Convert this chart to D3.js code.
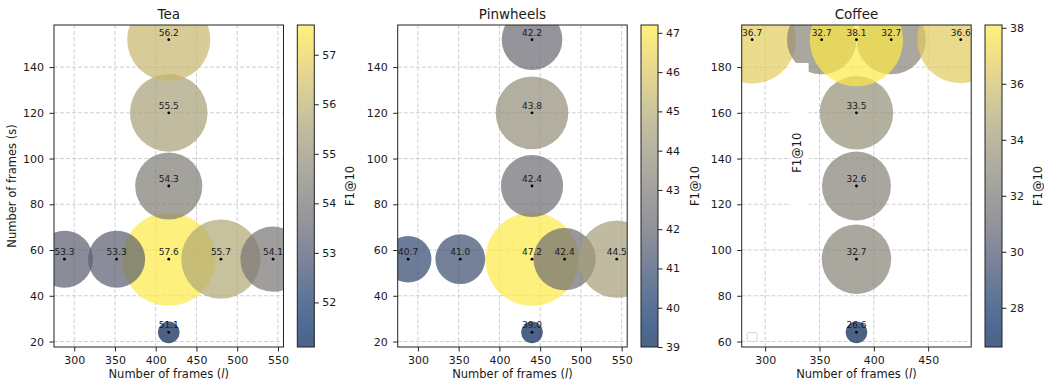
<!DOCTYPE html>
<html>
<head>
<meta charset="utf-8">
<script src="https://cdn.jsdelivr.net/npm/d3@7"></script>
<style>
    body { margin: 0; background: #fff; }
    text { font-family: 'DejaVu Sans', sans-serif; fill: #1a1a1a; }
</style>
</head>
<body>
<script>
const panelTitles = ['Tea', 'Pinwheels', 'Coffee']

// x = number of frames (l), y = number of frames (s), value = F1@10
const teaX = [416, 416, 416, 416, 416, 288, 352, 480, 544]
const teaY = [24, 56, 88, 120, 152, 56, 56, 56, 56]
const teaF1 = [51.1, 57.6, 54.3, 55.5, 56.2, 53.3, 53.3, 55.7, 54.1]

const pinX = [440, 440, 440, 440, 440, 288, 352, 480, 544]
const pinY = [24, 56, 88, 120, 152, 56, 56, 56, 56]
const pinF1 = [39.0, 47.2, 42.4, 43.8, 42.2, 40.7, 41.0, 42.4, 44.5]

const coffeeX = [384, 384, 384, 384, 288, 352, 416, 480, 384]
const coffeeY = [64, 96, 128, 160, 192, 192, 192, 192, 192]
const coffeeF1 = [26.6, 32.7, 32.6, 33.5, 36.7, 32.7, 32.7, 36.6, 38.1]

const teaXTicks = [300, 350, 400, 450, 500, 550]
const teaYTicks = [20, 40, 60, 80, 100, 120, 140]
const teaBarTicks = [52, 53, 54, 55, 56, 57]
const pinXTicks = [300, 350, 400, 450, 500, 550]
const pinYTicks = [20, 40, 60, 80, 100, 120, 140]
const pinBarTicks = [39, 40, 41, 42, 43, 44, 45, 46, 47]
const coffeeXTicks = [300, 350, 400, 450]
const coffeeYTicks = [60, 80, 100, 120, 140, 160, 180]
const coffeeBarTicks = [28, 30, 32, 34, 36, 38]

const svgValues = {
    width: 1044,
    height: 388,
    top: 25,
    bottom: 347,
    axesWidth: 229.5,
    barOffset: 243.3,
    barWidth: 17,
    lefts: [54, 397.7, 741.7]
}

const svg = d3.select('body')
    .append('svg')
    .attr('width', svgValues.width)
    .attr('height', svgValues.height)

function padded(arr){
    const [lo, hi] = d3.extent(arr)
    const m = (hi - lo) * 0.05
    return [lo - m, hi + m]
}

function makePanel(i, xs, ys, vals, xTicks, yTicks, barTicks){
    const left = svgValues.lefts[i]
    const right = left + svgValues.axesWidth
    const g = svg.append('g')

    const xScale = d3.scaleLinear().domain(padded(xs)).range([left, right])
    const yScale = d3.scaleLinear().domain(padded(ys)).range([svgValues.bottom, svgValues.top])
    const color = d3.scaleSequential(d3.interpolateCividis).domain(d3.extent(vals))
    const radius = d3.scaleRadial().domain(d3.extent(vals)).range([10.8, 46.6])

    // grid
    g.selectAll('.gx').data(xTicks).enter().append('line')
        .attr('x1', d => xScale(d)).attr('x2', d => xScale(d))
        .attr('y1', svgValues.top).attr('y2', svgValues.bottom)
        .attr('stroke', '#c4c4c4').attr('stroke-width', 0.8).attr('stroke-dasharray', '4,2')
    g.selectAll('.gy').data(yTicks).enter().append('line')
        .attr('x1', left).attr('x2', right)
        .attr('y1', d => yScale(d)).attr('y2', d => yScale(d))
        .attr('stroke', '#c4c4c4').attr('stroke-width', 0.8).attr('stroke-dasharray', '4,2')

    g.append('clipPath').attr('id', 'clip' + i)
        .append('rect')
        .attr('x', left).attr('y', svgValues.top)
        .attr('width', svgValues.axesWidth).attr('height', svgValues.bottom - svgValues.top)

    const idx = d3.range(vals.length)
    g.append('g').attr('clip-path', 'url(#clip' + i + ')')
        .selectAll('circle')
        .data(idx)
        .enter()
        .append('circle')
        .attr('cx', j => xScale(xs[j]))
        .attr('cy', j => yScale(ys[j]))
        .attr('r', j => radius(vals[j]))
        .style('fill', j => color(vals[j]))
        .style('fill-opacity', 0.7)

    if (i == 2) { // stray white box and label inside the coffee axes
        g.append('rect')
            .attr('x', xScale(323.5)).attr('y', yScale(181.8))
            .attr('width', xScale(340) - xScale(323.5))
            .attr('height', yScale(117.5) - yScale(181.8))
            .style('fill', '#fff')
        g.append('text')
            .text('F1@10')
            .attr('transform', 'translate(' + (xScale(329.3) + 4) + ',' + yScale(142.5) + ') rotate(-90)')
            .attr('text-anchor', 'middle')
            .style('font-size', '11.5px')
        g.append('rect')
            .attr('x', left + 5.5).attr('y', svgValues.bottom - 14.5)
            .attr('width', 10).attr('height', 9).attr('rx', 2)
            .style('fill', '#fff').style('stroke', '#d6d6d6')
    }

    g.selectAll('.dot').data(idx).enter().append('circle')
        .attr('cx', j => xScale(xs[j]))
        .attr('cy', j => yScale(ys[j]))
        .attr('r', 1.4)
        .style('fill', '#000')

    g.selectAll('.lab').data(idx).enter().append('text')
        .attr('x', j => xScale(xs[j]))
        .attr('y', j => yScale(ys[j]) - 4)
        .attr('text-anchor', 'middle')
        .style('font-size', '9px')
        .text(j => vals[j].toFixed(1))

    // axes
    const xAxis = d3.axisBottom(xScale).tickValues(xTicks).tickSize(4.5).tickPadding(4.5)
    const yAxis = d3.axisLeft(yScale).tickValues(yTicks).tickSize(4.5).tickPadding(5.5)
    g.append('g')
        .attr('transform', 'translate(0,' + svgValues.bottom + ')')
        .call(xAxis)
        .call(a => a.select('.domain').remove())
    g.append('g')
        .attr('transform', 'translate(' + left + ',0)')
        .call(yAxis)
        .call(a => a.select('.domain').remove())
    g.selectAll('.tick text').style('font-size', '11px').attr('fill', null)
    g.selectAll('.tick line').attr('stroke', '#222')

    g.append('rect')
        .attr('x', left).attr('y', svgValues.top)
        .attr('width', svgValues.axesWidth).attr('height', svgValues.bottom - svgValues.top)
        .style('fill', 'none').style('stroke', '#222').style('stroke-width', 1)

    g.append('text')
        .text(panelTitles[i])
        .attr('x', (left + right) / 2).attr('y', 19)
        .attr('text-anchor', 'middle')
        .style('font-size', '13.5px')

    const xLabel = g.append('text')
        .attr('x', (left + right) / 2).attr('y', 378)
        .attr('text-anchor', 'middle')
        .style('font-size', '11.5px')
    xLabel.append('tspan').text('Number of frames (')
    xLabel.append('tspan').text('l').style('font-style', 'italic')
    xLabel.append('tspan').text(')')

    if (i == 0) {
        g.append('text')
            .text('Number of frames (s)')
            .attr('transform', 'translate(16,' + ((svgValues.top + svgValues.bottom) / 2) + ') rotate(-90)')
            .attr('text-anchor', 'middle')
            .style('font-size', '11.5px')
    }

    makeColorbar(g, i, left + svgValues.barOffset, vals, barTicks)
}

function makeColorbar(g, i, bx, vals, barTicks){
    const barScale = d3.scaleLinear().domain(d3.extent(vals)).range([svgValues.bottom, svgValues.top])
    const grad = g.append('linearGradient')
        .attr('id', 'grad' + i)
        .attr('x1', 0).attr('y1', 1).attr('x2', 0).attr('y2', 0)
    grad.selectAll('stop')
        .data(d3.range(0, 1.001, 0.05))
        .enter()
        .append('stop')
        .attr('offset', d => d)
        .attr('stop-color', d => d3.interpolateCividis(d))

    g.append('rect')
        .attr('x', bx).attr('y', svgValues.top)
        .attr('width', svgValues.barWidth).attr('height', svgValues.bottom - svgValues.top)
        .style('fill', 'url(#grad' + i + ')')
        .style('fill-opacity', 0.7)
        .style('stroke', '#222')

    const barAxis = d3.axisRight(barScale).tickValues(barTicks).tickFormat(d3.format('d'))
        .tickSize(4.5).tickPadding(3.5)
    g.append('g')
        .attr('transform', 'translate(' + (bx + svgValues.barWidth) + ',0)')
        .call(barAxis)
        .call(a => a.select('.domain').remove())
        .call(a => a.selectAll('text').style('font-size', '11px').attr('fill', null))
        .call(a => a.selectAll('line').attr('stroke', '#222'))

    const labelX = [354, 699, 1042]
    g.append('text')
        .text('F1@10')
        .attr('transform', 'translate(' + labelX[i] + ',' + ((svgValues.top + svgValues.bottom) / 2) + ') rotate(-90)')
        .attr('text-anchor', 'middle')
        .style('font-size', '11.5px')
}

makePanel(0, teaX, teaY, teaF1, teaXTicks, teaYTicks, teaBarTicks)
makePanel(1, pinX, pinY, pinF1, pinXTicks, pinYTicks, pinBarTicks)
makePanel(2, coffeeX, coffeeY, coffeeF1, coffeeXTicks, coffeeYTicks, coffeeBarTicks)
</script>
</body>
</html>
